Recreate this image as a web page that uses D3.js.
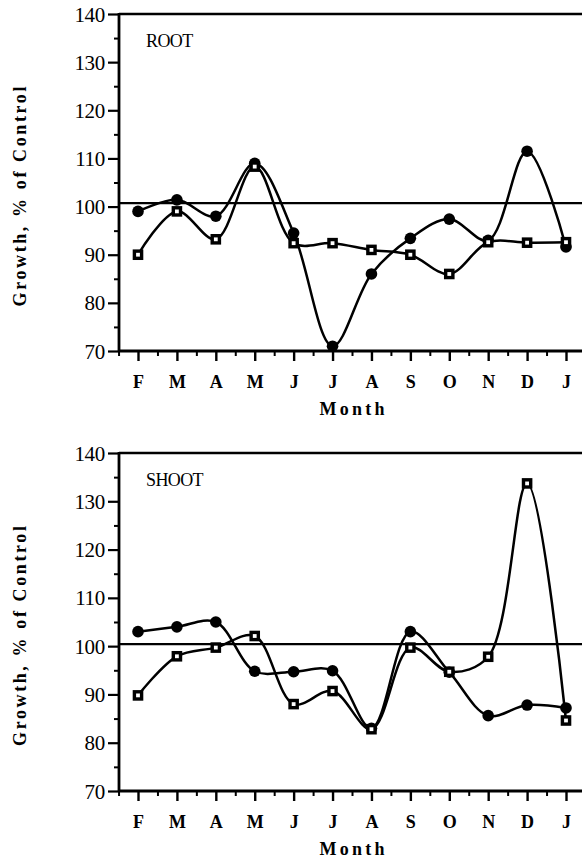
<!DOCTYPE html>
<html>
<head>
<meta charset="utf-8">
<script src="https://cdn.jsdelivr.net/npm/d3@7"></script>
<style>
  body { margin: 0; background: #fff; }
  svg text { font-family: "Liberation Serif", "Times New Roman", serif; fill: #000; }
</style>
</head>
<body>
<div id="chart"></div>
<script>
// months along the x axis (Feb .. Jan)
const months = ["F", "M", "A", "M", "J", "J", "A", "S", "O", "N", "D", "J"];
const yTicks = [70, 80, 90, 100, 110, 120, 130, 140];
const yMinor = [75, 85, 95, 105, 115, 125, 135];

// ROOT panel
const rootCircle = [99, 101.4, 98, 109, 94.5, 71, 86, 93.4, 97.4, 93, 111.5, 91.6];
const rootSquare = [90, 99, 93.2, 108.3, 92.4, 92.4, 91, 90, 86, 92.6, 92.5, 92.6];
const rootRef = 100.7;

// SHOOT panel
const shootCircle = [103, 104, 105, 94.8, 94.7, 94.9, 83, 103, 94.6, 85.6, 87.8, 87.2];
const shootSquare = [89.8, 97.9, 99.7, 102.1, 88, 90.7, 82.8, 99.7, 94.7, 97.8, 133.7, 84.6];
const shootRef = 100.4;

const width = 582;
const height = 858;

const svg = d3.select("#chart")
  .append("svg")
  .attr("width", width)
  .attr("height", height);

const panels = [
  { name: "ROOT", top: 14, bottom: 351, circles: rootCircle, squares: rootSquare, ref: rootRef },
  { name: "SHOOT", top: 453, bottom: 791, circles: shootCircle, squares: shootSquare, ref: shootRef }
];

const axisX = 119;
const x = d3.scaleLinear().domain([0, 11]).range([138, 566]);

panels.forEach(p => {
  const y = d3.scaleLinear().domain([70, 140]).range([p.bottom, p.top]);
  const g = svg.append("g");

  // top frame line
  g.append("line")
    .attr("x1", axisX).attr("x2", width)
    .attr("y1", p.top).attr("y2", p.top)
    .attr("stroke", "#000").attr("stroke-width", 2.4);

  // y axis
  const yAxis = g.append("g")
    .attr("transform", `translate(${axisX},0)`)
    .call(d3.axisLeft(y).tickValues(yTicks).tickSize(11).tickPadding(3));
  yAxis.select(".domain").remove();
  yAxis.selectAll("line").attr("stroke-width", 2.2);
  yAxis.selectAll("text")
    .attr("font-size", 21)
    .attr("font-family", "Liberation Serif")
    .attr("letter-spacing", -0.3)
    .attr("dy", "0.34em");

  const yMin = g.append("g")
    .attr("transform", `translate(${axisX},0)`)
    .call(d3.axisLeft(y).tickValues(yMinor).tickSize(5).tickFormat(""));
  yMin.select(".domain").remove();
  yMin.selectAll("line").attr("stroke-width", 2);

  g.append("line")
    .attr("x1", axisX).attr("x2", axisX)
    .attr("y1", p.top - 1).attr("y2", p.bottom + 1)
    .attr("stroke", "#000").attr("stroke-width", 2.8);

  // x axis
  const xAxis = g.append("g")
    .attr("transform", `translate(0,${p.bottom})`)
    .call(d3.axisBottom(x).tickValues(d3.range(12)).tickSize(10).tickPadding(14)
      .tickFormat(i => months[i]));
  xAxis.select(".domain").remove();
  xAxis.selectAll("line").attr("stroke-width", 2.4);
  xAxis.selectAll("text")
    .attr("font-size", 18)
    .attr("font-weight", "bold")
    .attr("font-family", "Liberation Serif");

  const xMin = g.append("g")
    .attr("transform", `translate(0,${p.bottom})`)
    .call(d3.axisBottom(x).tickValues(d3.range(-0.5, 11, 1)).tickSize(5).tickFormat(""));
  xMin.select(".domain").remove();
  xMin.selectAll("line").attr("stroke-width", 2);

  g.append("line")
    .attr("x1", axisX - 1).attr("x2", width)
    .attr("y1", p.bottom).attr("y2", p.bottom)
    .attr("stroke", "#000").attr("stroke-width", 2.8);

  // 100% reference line
  g.append("line")
    .attr("x1", axisX).attr("x2", width)
    .attr("y1", y(p.ref)).attr("y2", y(p.ref))
    .attr("stroke", "#000").attr("stroke-width", 2.2);

  const line = d3.line()
    .x((d, i) => x(i))
    .y(d => y(d))
    .curve(d3.curveCatmullRom.alpha(0.5));

  [p.circles, p.squares].forEach(s => {
    g.append("path")
      .attr("d", line(s))
      .attr("fill", "none")
      .attr("stroke", "#000")
      .attr("stroke-width", 2.5);
  });

  g.selectAll("circle.pt")
    .data(p.circles)
    .join("circle")
    .attr("class", "pt")
    .attr("cx", (d, i) => x(i))
    .attr("cy", d => y(d))
    .attr("r", 5.8)
    .attr("fill", "#000");

  g.selectAll("rect.pt")
    .data(p.squares)
    .join("rect")
    .attr("class", "pt")
    .attr("x", (d, i) => x(i) - 3.6)
    .attr("y", d => y(d) - 3.6)
    .attr("width", 7.2)
    .attr("height", 7.2)
    .attr("fill", "#fff")
    .attr("stroke", "#000")
    .attr("stroke-width", 3.4);

  // panel label
  g.append("text")
    .attr("x", 146)
    .attr("y", p.top + 33)
    .attr("font-size", 18)
    .attr("letter-spacing", -0.6)
    .text(p.name);

  // axis titles
  g.append("text")
    .attr("transform", `translate(26,${(p.top + p.bottom) / 2 + 14}) rotate(-90)`)
    .attr("text-anchor", "middle")
    .attr("font-size", 18)
    .attr("font-weight", "bold")
    .attr("textLength", 220)
    .attr("lengthAdjust", "spacing")
    .text("Growth,  % of Control");

  g.append("text")
    .attr("x", 352)
    .attr("y", p.bottom + 64)
    .attr("text-anchor", "middle")
    .attr("font-size", 18)
    .attr("font-weight", "bold")
    .attr("textLength", 65)
    .attr("lengthAdjust", "spacing")
    .text("Month");
});
</script>
</body>
</html>
